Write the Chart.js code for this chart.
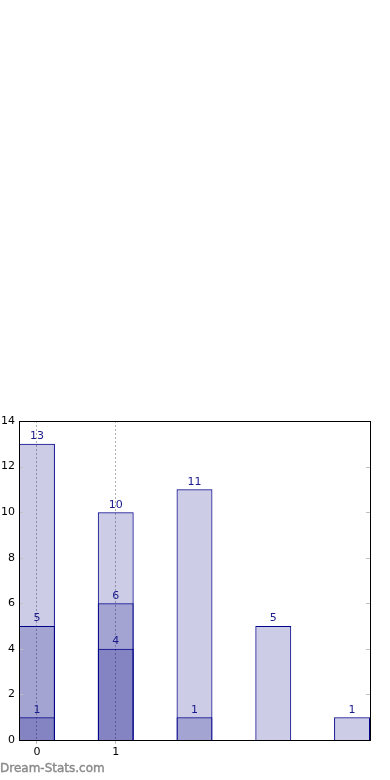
<!DOCTYPE html>
<html>
<head>
<meta charset="utf-8">
<script src="https://cdn.jsdelivr.net/npm/chart.js@4/dist/chart.umd.min.js"></script>
<style>
  html, body { margin: 0; padding: 0; background: #fff; }
  #wrap { position: relative; width: 390px; height: 780px; }
  #mark { position: absolute; left: 0; top: 761px; font: 12px "DejaVu Sans", sans-serif; color: #8a8a8a; -webkit-text-stroke: 0.4px #8a8a8a; }
</style>
</head>
<body>
<div id="wrap">
  <canvas id="barChart" width="390" height="780"></canvas>
  <div id="mark">Dream-Stats.com</div>
</div>
<script>
const positions = [0, 1, 2, 3, 4];
const totalValues = [13, 10, 11, 5, 1];
const middleValues = [5, 6, 1, 0, 0];
const innerValues = [1, 4, 0, 0, 0];
const xTickLabels = ['0', '1'];
const yTicks = [0, 2, 4, 6, 8, 10, 12, 14];

const fill = 'rgba(0, 0, 128, 0.2)';
const edge = '#00008b';

function points(values) {
    return positions.map(function (p, i) { return { x: p, y: values[i] }; });
}

function makeSet(values) {
    return {
        data: points(values),
        backgroundColor: fill,
        borderColor: edge,
        borderWidth: 1,
        grouped: false,
        barPercentage: 0.456,
        categoryPercentage: 1,
    };
}

// box, inward ticks and value labels, drawn like the original
const decor = {
    id: 'decor',
    afterDatasetsDraw(chart) {
        const ctx = chart.ctx;
        const a = chart.chartArea;
        const y = chart.scales.y;
        const x = chart.scales.x;
        ctx.save();
        ctx.strokeStyle = '#c0c0c0';
        ctx.lineWidth = 1;
        yTicks.forEach(function (v) {
            const py = Math.round(y.getPixelForValue(v)) + 0.5;
            ctx.beginPath();
            ctx.moveTo(a.left, py); ctx.lineTo(a.left + 4, py);
            ctx.moveTo(a.right, py); ctx.lineTo(a.right - 4, py);
            ctx.stroke();
        });
        ctx.strokeStyle = '#000';
        ctx.strokeRect(Math.round(a.left) + 0.5, Math.round(a.top) + 0.5,
            Math.round(a.right - a.left), Math.round(a.bottom - a.top));

        ctx.fillStyle = '#1a1a8c';
        ctx.font = '11px "DejaVu Sans", sans-serif';
        ctx.textAlign = 'center';
        ctx.textBaseline = 'bottom';
        chart.data.datasets.forEach(function (ds) {
            ds.data.forEach(function (d) {
                if (!d.y) return;
                ctx.fillText(String(d.y), x.getPixelForValue(d.x), y.getPixelForValue(d.y) - 2);
            });
        });
        ctx.restore();
    }
};

new Chart(document.getElementById('barChart'), {
    type: 'bar',
    data: {
        datasets: [makeSet(totalValues), makeSet(middleValues), makeSet(innerValues)],
    },
    options: {
        responsive: false,
        animation: false,
        layout: { padding: { top: 421, right: 20, left: 0, bottom: 0 } },
        plugins: { legend: { display: false }, tooltip: { enabled: false } },
        scales: {
            x: {
                type: 'linear',
                min: -0.228,
                max: 4.228,
                offset: false,
                afterBuildTicks(axis) {
                    axis.ticks = xTickLabels.map(function (t) { return { value: Number(t) }; });
                },
                ticks: {
                    color: '#000',
                    font: { family: 'DejaVu Sans', size: 11 },
                    padding: 2,
                    callback: function (v) { return String(v); },
                },
                grid: {
                    offset: false,
                    color: '#b0b0b0',
                    tickColor: '#c0c0c0',
                    tickLength: 4,
                },
                border: { display: false, dash: [2, 2] },
                afterFit(axis) { axis.height = 40; },
            },
            y: {
                min: 0,
                max: 14,
                ticks: {
                    stepSize: 2,
                    color: '#000',
                    font: { family: 'DejaVu Sans', size: 11 },
                    padding: 4,
                },
                grid: { display: false, drawTicks: false },
                border: { display: false },
                afterFit(axis) { axis.width = 19; },
            },
        },
    },
    plugins: [decor],
});
</script>
</body>
</html>
